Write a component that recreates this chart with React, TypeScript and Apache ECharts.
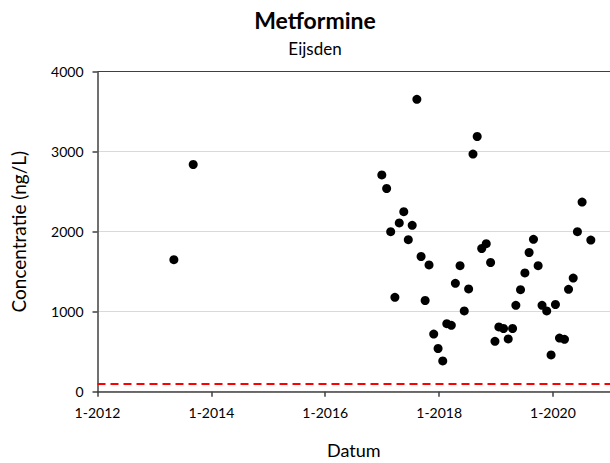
import React, { useEffect, useRef } from "react";
import * as echarts from "echarts";

const title = "Metformine";
const subtitle = "Eijsden";
const xName = "Datum";
const yName = "Concentratie (ng/L)";

const sampleDates = [
  "2013-05-05", "2013-09-06",
  "2016-12-29", "2017-01-29", "2017-02-24", "2017-03-23", "2017-04-20", "2017-05-19",
  "2017-06-17", "2017-07-12", "2017-08-11", "2017-09-07", "2017-10-03", "2017-10-28",
  "2017-11-27", "2017-12-25", "2018-01-24", "2018-02-19", "2018-03-20", "2018-04-15",
  "2018-05-15", "2018-06-11", "2018-07-09", "2018-08-06", "2018-09-02", "2018-10-01",
  "2018-10-30", "2018-11-27", "2018-12-25", "2019-01-19", "2019-02-18", "2019-03-20",
  "2019-04-17", "2019-05-08", "2019-06-07", "2019-07-05", "2019-08-01", "2019-08-29",
  "2019-09-28", "2019-10-23", "2019-11-22", "2019-12-20", "2020-01-17", "2020-02-12",
  "2020-03-15", "2020-04-10", "2020-05-10", "2020-06-06", "2020-07-06", "2020-08-31",
];

const concentrations = [
  1650, 2840,
  2710, 2540, 2000, 1180, 2110, 2250,
  1900, 2080, 3655, 1690, 1140, 1585,
  720, 540, 385, 850, 830, 1355,
  1575, 1010, 1285, 2970, 3190, 1790,
  1850, 1615, 630, 810, 790, 660,
  790, 1080, 1275, 1485, 1740, 1905,
  1575, 1080, 1010, 460, 1090, 670,
  655, 1280, 1420, 2000, 2370, 1895,
];

const limitValue = 100;
const tickYears = [2012, 2014, 2016, 2018, 2020];
const xMinYear = 2012;
const xMaxYear = 2021;
const yTicks = [0, 1000, 2000, 3000, 4000];

const FONT = "Lato, 'Open Sans', sans-serif";

function toTime(s: string): number {
  const [y, m, d] = s.split("-").map(Number);
  return Date.UTC(y, m - 1, d);
}

export default function App() {
  const ref = useRef<HTMLDivElement>(null);

  useEffect(() => {
    if (!ref.current) return;
    const chart = echarts.init(ref.current, null, { renderer: "svg" });
    const tickValues = tickYears.map((y) => Date.UTC(y, 0, 1));
    const data = sampleDates.map((d, i) => [toTime(d), concentrations[i]]);

    chart.setOption({
      animation: false,
      backgroundColor: "#ffffff",
      textStyle: { fontFamily: FONT },
      title: [
        {
          text: title,
          left: 310,
          top: 3,
          textAlign: "center",
          textStyle: { fontFamily: FONT, fontSize: 23, fontWeight: "bold", color: "#000" },
        },
        {
          text: subtitle,
          left: 310,
          top: 35,
          textAlign: "center",
          textStyle: { fontFamily: FONT, fontSize: 17, fontWeight: "normal", color: "#000" },
        },
      ],
      grid: {
        left: 97.5,
        right: 0,
        top: 71.7,
        bottom: 71.3,
        outerBoundsMode: "none",
      },
      xAxis: {
        type: "value",
        min: Date.UTC(xMinYear, 0, 1),
        max: Date.UTC(xMaxYear, 0, 1),
        name: xName,
        nameLocation: "middle",
        nameGap: 49,
        nameTextStyle: { fontFamily: FONT, fontSize: 18, color: "#000" },
        axisLine: { show: true, lineStyle: { color: "#404040", width: 1.5 } },
        axisTick: {
          show: true,
          inside: false,
          length: 5,
          customValues: tickValues,
          lineStyle: { color: "#404040", width: 1.5 },
        },
        axisLabel: {
          customValues: tickValues,
          margin: 14,
          fontFamily: FONT,
          fontSize: 14,
          color: "#000",
          formatter: (v: number) => "1-" + new Date(v).getUTCFullYear(),
        },
        splitLine: { show: false },
      },
      yAxis: {
        type: "value",
        min: yTicks[0],
        max: yTicks[yTicks.length - 1],
        interval: 1000,
        name: yName,
        nameLocation: "middle",
        nameGap: 70,
        nameTextStyle: { fontFamily: FONT, fontSize: 19, color: "#000" },
        axisLine: { show: true, lineStyle: { color: "#404040", width: 1.5 } },
        axisTick: { show: true, inside: false, length: 5, lineStyle: { color: "#404040", width: 1.5 } },
        axisLabel: {
          margin: 14,
          fontFamily: FONT,
          fontSize: 14,
          color: "#000",
          formatter: (v: number) => String(v),
        },
        splitLine: {
          show: true,
          lineStyle: {
            color: ["#d9d9d9", "#d9d9d9", "#d9d9d9", "#d9d9d9", "#404040"],
            width: 1,
          },
        },
      },
      series: [
        {
          type: "scatter",
          data,
          symbol: "circle",
          symbolSize: 9,
          itemStyle: { color: "#000", opacity: 1 },
          markLine: {
            silent: true,
            symbol: ["none", "none"],
            label: { show: false },
            lineStyle: { color: "#ff0000", type: [8, 5], width: 2 },
            data: [{ yAxis: limitValue }],
          },
        },
      ],
    });

    return () => chart.dispose();
  }, []);

  return (
    <div
      ref={ref}
      style={{ position: "absolute", left: 0, top: 0, width: 610, height: 463 }}
    />
  );
}
